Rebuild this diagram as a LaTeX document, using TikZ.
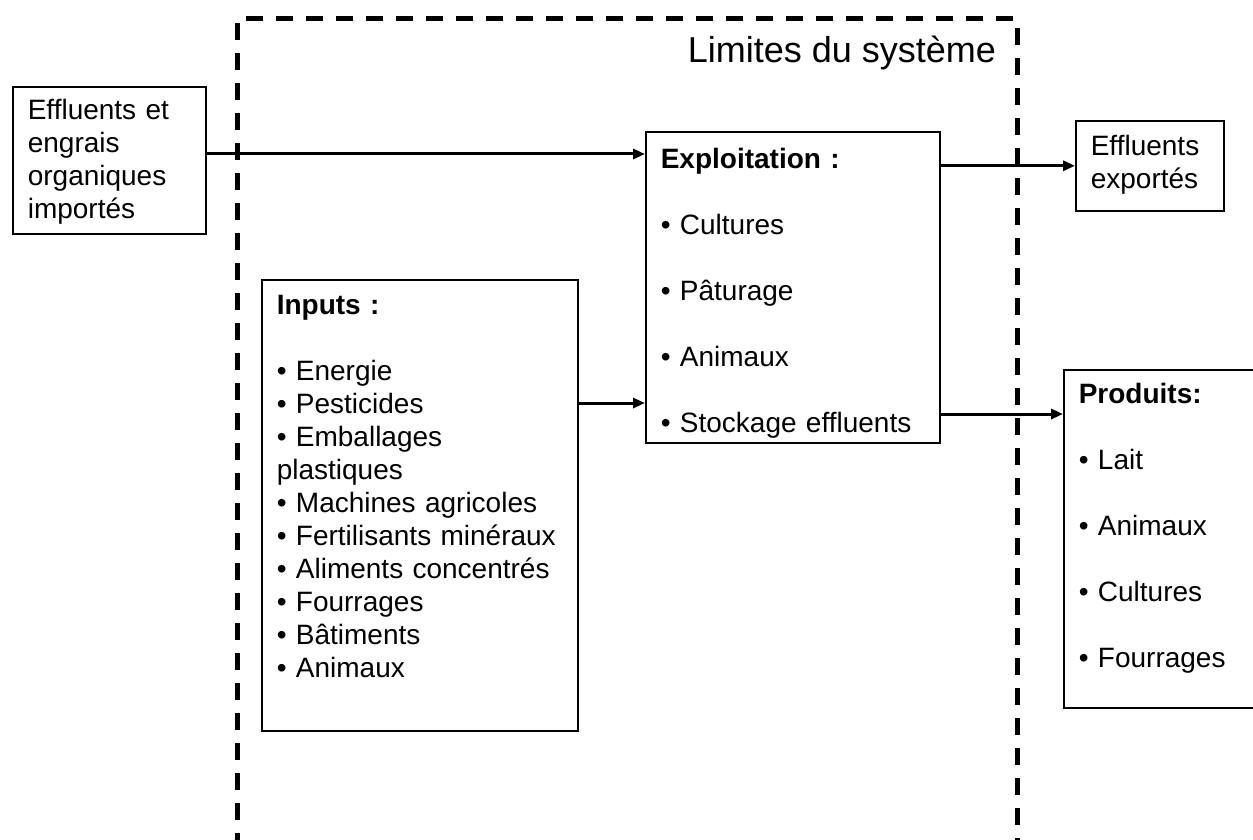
\documentclass[tikz,border=0pt]{standalone}
\usepackage{fontspec}
\setmainfont{Liberation Sans}
\usetikzlibrary{arrows.meta}
\begin{document}
\begin{tikzpicture}
            [x=0.5pt, y=-0.5pt, >={Triangle[length=6pt,width=5pt]},
             font=\fontsize{14}{16.5}\selectfont,
             box/.style={draw=black, line width=0.8pt, align=left, anchor=north west, inner xsep=7.5pt, inner ysep=0pt},
             flow/.style={->, line width=1.5pt},
             limit/.style={draw=black, line width=2.5pt, dash pattern=on 8.5pt off 6.5pt}]
            \useasboundingbox (0,0) rectangle (1253,840);
            \draw[limit] (237,850) -- (237,19) -- (1017,19) -- (1017,850);
            \node[anchor=base east, font=\fontsize{18}{21}\selectfont] (limtxt) at (1003,63) {Limites du système};

            \node[box, text width=81.5pt, text height=16.5pt, text depth=57pt] (effimp) at (12,86)
                {Effluents et\\engrais\\organiques\\importés};
            \node[box, text width=132pt, text height=18.5pt, text depth=137pt] (exploit) at (645,131)
                {\textbf{Exploitation :}\\[16.5pt]• Cultures\\[16.5pt]• Pâturage\\[16.5pt]• Animaux\\[16.5pt]• Stockage effluents};
            \node[box, text width=143pt, text height=17.5pt, text depth=208pt] (inputs) at (261,279)
                {\textbf{Inputs :}\\[16.5pt]• Energie\\• Pesticides\\• Emballages\\plastiques\\• Machines agricoles\\• Fertilisants minéraux\\• Aliments concentrés\\• Fourrages\\• Bâtiments\\• Animaux};
            \node[box, text width=59pt, text height=17.5pt, text depth=27.5pt] (effexp) at (1075,120)
                {Effluents\\exportés};
            \node[box, text width=98.5pt, text height=17pt, text depth=152pt] (produits) at (1063,369)
                {\textbf{Produits:}\\[16.5pt]• Lait\\[16.5pt]• Animaux\\[16.5pt]• Cultures\\[16.5pt]• Fourrages};

            \coordinate (lvlimp) at (0,154);
            \coordinate (lvlin) at (0,403);
            \coordinate (lvlprod) at (0,414);

            \path [flow] (effimp.east |- lvlimp) edge node {} (exploit.west |- lvlimp);
            \path [flow] (inputs.east |- lvlin) edge node {} (exploit.west |- lvlin);
            \path [flow] (exploit.east |- effexp.west) edge node {} (effexp.west);
            \path [flow] (exploit.east |- lvlprod) edge node {} (produits.west |- lvlprod);
        \end{tikzpicture}
\end{document}
